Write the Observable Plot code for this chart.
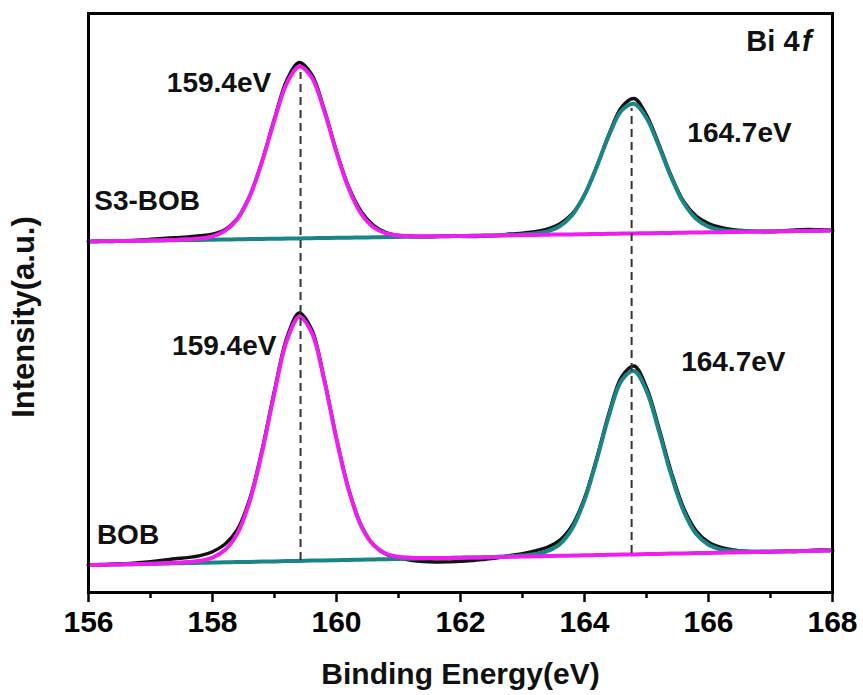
<!DOCTYPE html>
<html>
<head>
<meta charset="utf-8">
<script src="https://cdn.jsdelivr.net/npm/d3@7"></script>
<script src="https://cdn.jsdelivr.net/npm/@observablehq/plot@0.6"></script>
<style>
  html, body { margin: 0; padding: 0; background: #fff; }
  #chart { width: 863px; height: 695px; }
</style>
</head>
<body>
<div id="chart"></div>
<script>
// ---------- data ----------
const energy = [156.0, 156.2, 156.4, 156.6, 156.8, 157.0, 157.2, 157.4, 157.6, 157.8,
  158.0, 158.2, 158.4, 158.6, 158.8, 159.0, 159.2, 159.4, 159.6, 159.8,
  160.0, 160.2, 160.4, 160.6, 160.8, 161.0, 161.2, 161.4, 161.6, 161.8,
  162.0, 162.2, 162.4, 162.6, 162.8, 163.0, 163.2, 163.4, 163.6, 163.8,
  164.0, 164.2, 164.4, 164.6, 164.8, 165.0, 165.2, 165.4, 165.6, 165.8,
  166.0, 166.2, 166.4, 166.6, 166.8, 167.0, 167.2, 167.4, 167.6, 167.8, 168.0];

// S3-BOB (upper trace)
const s3Raw = [351.0, 351.6, 351.0, 351.9, 352.3, 353.2, 354.1, 354.8, 355.6, 356.7,
  358.4, 362.9, 374.0, 396.5, 431.6, 474.0, 512.6, 530.0, 518.0, 483.5,
  441.0, 405.0, 380.8, 367.0, 360.0, 357.0, 356.0, 355.6, 356.0, 356.8,
  356.2, 356.0, 356.5, 357.3, 358.5, 359.4, 360.8, 363.5, 368.6, 378.5,
  397.8, 426.5, 459.0, 485.5, 494.0, 477.5, 448.0, 416.5, 391.0, 376.5,
  369.0, 365.0, 362.8, 361.8, 361.0, 360.6, 361.5, 362.6, 363.0, 362.8, 362.5];
const s3Fit72 = [351.0, 351.2, 351.4, 351.5, 351.7, 351.9, 352.3, 352.6, 353.2, 354.0,
  356.2, 361.6, 373.3, 396.1, 430.8, 472.7, 509.4, 525.9, 515.1, 481.8,
  440.0, 403.5, 378.6, 365.2, 359.2, 357.1, 356.5, 356.2, 356.3, 356.3,
  356.5, 356.7, 356.9, 357.0, 357.2, 357.4, 357.6, 357.8, 358.0, 358.1,
  358.3, 358.5, 358.7, 358.9, 359.1, 359.2, 359.4, 359.6, 359.8, 360.0,
  360.2, 360.3, 360.5, 360.7, 360.9, 361.1, 361.3, 361.4, 361.6, 361.8, 362.0];
const s3Fit52 = [351.0, 351.2, 351.4, 351.5, 351.7, 351.9, 352.1, 352.3, 352.5, 352.6,
  352.8, 353.0, 353.2, 353.4, 353.6, 353.7, 353.9, 354.1, 354.3, 354.5,
  354.7, 354.8, 355.0, 355.2, 355.4, 355.6, 355.8, 355.9, 356.1, 356.3,
  356.5, 356.7, 356.9, 357.1, 357.6, 358.1, 359.0, 361.2, 366.2, 377.2,
  397.3, 426.1, 457.9, 482.1, 488.7, 474.5, 446.2, 415.0, 389.7, 373.7,
  365.9, 362.6, 361.5, 361.2, 361.2, 361.2, 361.3, 361.4, 361.6, 361.8, 362.0];

// BOB (lower trace)
const bobRaw = [27.8, 27.5, 28.6, 28.9, 29.8, 30.9, 32.3, 33.8, 34.9, 36.8,
  40.8, 48.2, 62.9, 93.4, 142.8, 202.2, 255.0, 279.6, 263.0, 214.2,
  154.0, 102.6, 67.0, 47.5, 38.2, 34.5, 32.3, 31.0, 30.5, 30.6,
  31.2, 32.0, 33.3, 34.7, 37.0, 38.9, 41.7, 45.3, 52.3, 66.9,
  94.4, 135.0, 180.5, 215.8, 226.5, 205.1, 164.5, 120.3, 84.4, 61.7,
  50.2, 45.1, 42.6, 41.3, 40.6, 40.5, 41.4, 41.0, 41.9, 42.5, 42.3];
const bobFit72 = [27.5, 27.7, 28.0, 28.2, 28.5, 28.7, 29.2, 29.7, 30.4, 31.7,
  34.8, 42.4, 58.9, 91.1, 140.5, 199.9, 252.0, 275.4, 260.0, 212.7,
  153.3, 101.7, 66.2, 47.3, 38.7, 35.7, 34.8, 34.5, 34.5, 34.5,
  34.8, 35.0, 35.2, 35.5, 35.7, 36.0, 36.2, 36.5, 36.7, 36.9,
  37.2, 37.4, 37.7, 37.9, 38.1, 38.4, 38.6, 38.9, 39.1, 39.4,
  39.6, 39.8, 40.1, 40.3, 40.6, 40.8, 41.0, 41.3, 41.5, 41.8, 42.0];
const bobFit52 = [27.5, 27.7, 28.0, 28.2, 28.5, 28.7, 29.0, 29.2, 29.4, 29.7,
  29.9, 30.2, 30.4, 30.6, 30.9, 31.1, 31.4, 31.6, 31.9, 32.1,
  32.3, 32.6, 32.8, 33.1, 33.3, 33.5, 33.8, 34.0, 34.3, 34.5,
  34.8, 35.0, 35.2, 35.7, 36.3, 36.9, 38.2, 41.3, 48.3, 63.9,
  92.4, 133.1, 178.1, 212.3, 221.5, 201.6, 161.5, 117.3, 81.4, 58.7,
  47.7, 43.1, 41.6, 41.0, 41.0, 41.0, 41.0, 41.3, 41.5, 41.8, 42.0];

// peak positions and the extent of the dashed guide lines (intensity a.u.)
const peakEnergies = [159.42, 164.76];
const guideLow = [32, 39];
const guideHigh = [520, 484];

const majorTicks = [156, 158, 160, 162, 164, 166, 168];
const minorTicks = [157, 159, 161, 163, 165, 167];
const peakLabels = ["159.4eV", "164.7eV", "159.4eV", "164.7eV"];
const sampleNames = ["S3-BOB", "BOB"];

// ---------- chart ----------
const FONT = "'Liberation Sans', Arial, Helvetica, sans-serif";
const MAGENTA = "#ee1fee";
const TEAL = "#1b8585";
const BLACK = "#111111";

const trace = (arr, stroke, strokeWidth) =>
  Plot.line(energy, {x: d => d, y: (d, i) => arr[i], stroke, strokeWidth,
    curve: "catmull-rom", strokeLinejoin: "round", strokeLinecap: "round"});

const labelText = (texts, xs, ys, opts = {}) =>
  Plot.text(texts, {x: (d, i) => xs[i], y: (d, i) => ys[i], text: d => d,
    textAnchor: "middle", lineAnchor: "middle",
    fontFamily: FONT, fontWeight: "bold", fontSize: 28, fill: BLACK, ...opts});

const chart = Plot.plot({
  width: 863,
  height: 695,
  marginLeft: 88,
  marginRight: 31,
  marginTop: 13,
  marginBottom: 103,
  style: {fontFamily: FONT, fontSize: "30px", fontWeight: "bold", background: "#fff", overflow: "visible", color: "#000"},
  x: {domain: [156, 168], axis: null},
  y: {domain: [0, 579], axis: null},
  marks: [
    trace(s3Raw, BLACK, 3.4),
    trace(bobRaw, BLACK, 3.4),
    trace(s3Fit52, TEAL, 4),
    trace(bobFit52, TEAL, 4),
    trace(s3Fit72, MAGENTA, 4),
    trace(bobFit72, MAGENTA, 4),
    Plot.ruleX(peakEnergies, {x: d => d, y1: (d, i) => guideLow[i], y2: (d, i) => guideHigh[i],
      stroke: "#333", strokeWidth: 2, strokeDasharray: "8,5"}),
    Plot.frame({stroke: "#000", strokeWidth: 3}),
    Plot.axisX({ticks: majorTicks, tickSize: 10, tickPadding: 8, strokeWidth: 2.5,
      fontSize: 30, fontWeight: "bold", fontFamily: FONT, tickFormat: d => String(d), label: null}),
    Plot.axisX({ticks: minorTicks, tickSize: 6, strokeWidth: 2.5, tickFormat: () => "", label: null}),
    // peak annotations
    labelText(peakLabels, [158.105, 166.5, 158.19, 166.4], [509.5, 459.5, 246, 230.5]),
    // sample names
    labelText(sampleNames, [156.946, 156.637], [391, 57]),
    // Bi 4f
    labelText(["Bi 4"], [167.468], [551], {textAnchor: "end", fontSize: 29}),
    labelText(["f"], [167.51], [551], {textAnchor: "start", fontSize: 29, fontStyle: "italic"}),
    // axis titles
    labelText(["Binding Energy(eV)"], [162], [-82], {fontSize: 30}),
    labelText(["Intensity(a.u.)"], [154.968], [275.5], {fontSize: 31, rotate: -90})
  ]
});

document.getElementById("chart").appendChild(chart);
</script>
</body>
</html>
